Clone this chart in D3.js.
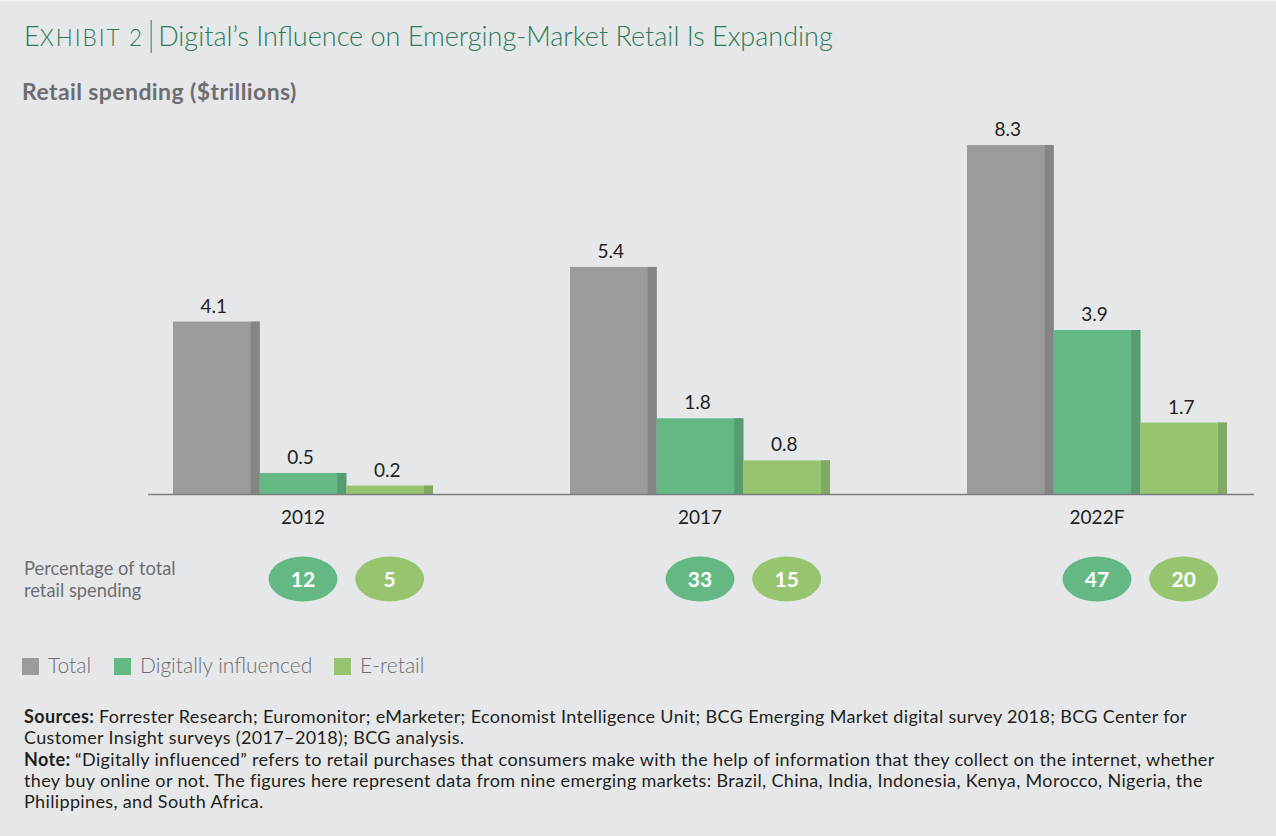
<!DOCTYPE html>
<html>
<head>
<meta charset="utf-8">
<script src="https://cdn.jsdelivr.net/npm/d3@7"></script>
<style>
  html, body { margin: 0; padding: 0; background: #e6e7e8; }
  svg { display: block; font-family: Lato, "Open Sans", sans-serif; }
</style>
</head>
<body>
<div id="chart"></div>
<script>
const years = ['2012', '2017', '2022F'];
const series = ['Total', 'Digitally influenced', 'E-retail'];
const totalValues = [4.1, 5.4, 8.3];
const digitalValues = [0.5, 1.8, 3.9];
const eretailValues = [0.2, 0.8, 1.7];
const digitalShare = [12, 33, 47];
const eretailShare = [5, 15, 20];

const footerLines = [
    [['Sources: ', true], ['Forrester Research; Euromonitor; eMarketer; Economist Intelligence Unit; BCG Emerging Market digital survey 2018; BCG Center for', false]],
    [['Customer Insight surveys (2017–2018); BCG analysis.', false]],
    [['Note: ', true], ['“Digitally influenced” refers to retail purchases that consumers make with the help of information that they collect on the internet, whether', false]],
    [['they buy online or not. The figures here represent data from nine emerging markets: Brazil, China, India, Indonesia, Kenya, Morocco, Nigeria, the', false]],
    [['Philippines, and South Africa.', false]]
];

const W = 1276, H = 836;
const fill = { 'Total': '#9b9b9b', 'Digitally influenced': '#63b883', 'E-retail': '#97c56f' };
const shade = { 'Total': '#858585', 'Digitally influenced': '#579b70', 'E-retail': '#82a962' };
const grayText = '#6d6e71';

const rows = years.map((y, i) => ({
    year: y,
    values: [
        { key: 'Total', v: totalValues[i] },
        { key: 'Digitally influenced', v: digitalValues[i] },
        { key: 'E-retail', v: eretailValues[i] }
    ],
    shares: [
        { key: 'Digitally influenced', v: digitalShare[i] },
        { key: 'E-retail', v: eretailShare[i] }
    ]
}));

const svg = d3.select('#chart').append('svg').attr('width', W).attr('height', H);
svg.append('rect').attr('width', W).attr('height', H).attr('fill', '#e6e7e8');
svg.append('rect').attr('width', W).attr('height', 1.5).attr('fill', '#f4f4f4');

// Títol
const title = svg.append('text').attr('x', 24).attr('y', 46).attr('fill', '#2b7b5a')
    .style('font-weight', 300).style('font-size', '27px');
title.append('tspan').text('E');
title.append('tspan').style('font-size', '22.5px').style('letter-spacing', '2px').text('XHIBIT 2');
const mainTitle = title.append('tspan').attr('dx', 14).text('Digital’s Influence on Emerging-Market Retail Is Expanding');
// separador col·locat entre les dues parts
const sepX = mainTitle.node().getStartPositionOfChar(0).x - 7;
svg.append('line').attr('x1', sepX).attr('x2', sepX).attr('y1', 20).attr('y2', 53)
    .attr('stroke', '#2b7b5a').attr('stroke-width', 1);

svg.append('text').attr('x', 22).attr('y', 100).attr('fill', grayText)
    .style('font-size', '23px').style('font-weight', 700).style('letter-spacing', '0.4px')
    .text('Retail spending ($trillions)');

// Escales
const x0 = d3.scaleBand().domain(years).range([104.5, 1295.5]);
const x1 = d3.scaleBand().domain(series).range([68.5, 328.5]);
const y = d3.scaleLinear().domain([0, 9]).range([494, 494 - 9 * 42.05]);
const shadeW = 9;

const g = svg.selectAll('g.year').data(rows).enter().append('g')
    .attr('class', 'year')
    .attr('transform', d => `translate(${x0(d.year)},0)`);

const bars = g.selectAll('g.bar').data(d => d.values).enter().append('g').attr('class', 'bar');
bars.append('rect')
    .attr('x', d => x1(d.key))
    .attr('y', d => y(d.v))
    .attr('width', x1.bandwidth())
    .attr('height', d => y(0) - y(d.v))
    .attr('fill', d => fill[d.key]);
bars.append('rect')
    .attr('x', d => x1(d.key) + x1.bandwidth() - shadeW)
    .attr('y', d => y(d.v))
    .attr('width', shadeW)
    .attr('height', d => y(0) - y(d.v))
    .attr('fill', d => shade[d.key]);
bars.append('text')
    .attr('x', d => x1(d.key) + (x1.bandwidth() - shadeW) / 2 + 2)
    .attr('y', d => y(d.v) - 9)
    .attr('text-anchor', 'middle')
    .attr('fill', '#231f20')
    .style('font-size', '19px')
    .text(d => d3.format('.1f')(d.v));

// Eix
svg.append('line').attr('x1', 148).attr('x2', 1254).attr('y1', y(0) + 0.5).attr('y2', y(0) + 0.5)
    .attr('stroke', '#7d7e80').attr('stroke-width', 1.5);

g.append('text')
    .attr('x', x0.bandwidth() / 2)
    .attr('y', 524)
    .attr('text-anchor', 'middle')
    .attr('fill', '#231f20')
    .style('font-size', '19px')
    .text(d => d.year);

// Percentatges
const shares = g.selectAll('g.share').data(d => d.shares).enter().append('g')
    .attr('class', 'share')
    .attr('transform', d => `translate(${x1(d.key) + x1.bandwidth() / 2},579)`);
shares.append('ellipse').attr('rx', 34.5).attr('ry', 22.5).attr('fill', d => fill[d.key]);
shares.append('text')
    .attr('y', 7.5)
    .attr('text-anchor', 'middle')
    .attr('fill', '#fff')
    .style('font-size', '21px')
    .style('font-weight', 700)
    .text(d => d.v);

svg.append('text').attr('x', 24).attr('y', 575).attr('fill', grayText).style('font-size', '18.3px')
    .text('Percentage of total');
svg.append('text').attr('x', 24).attr('y', 597).attr('fill', grayText).style('font-size', '18.3px')
    .text('retail spending');

// Llegenda
const legendX = [22, 114, 334];
const leg = svg.selectAll('g.legend').data(series).enter().append('g')
    .attr('class', 'legend')
    .attr('transform', (d, i) => `translate(${legendX[i]},658)`);
leg.append('rect').attr('width', 17).attr('height', 17).attr('fill', d => fill[d]);
leg.append('text').attr('x', 26).attr('y', 15).attr('fill', grayText)
    .style('font-size', '21px').style('font-weight', 300).text(d => d);

// Fonts i nota
const foot = svg.append('g');
footerLines.forEach((line, i) => {
    const t = foot.append('text').attr('x', 24).attr('y', 723 + i * 21.3)
        .attr('fill', '#231f20').style('font-size', '18px').style('letter-spacing', '0.35px');
    line.forEach(([s, bold]) => {
        t.append('tspan').style('font-weight', bold ? 700 : 400).text(s);
    });
});
</script>
</body>
</html>
